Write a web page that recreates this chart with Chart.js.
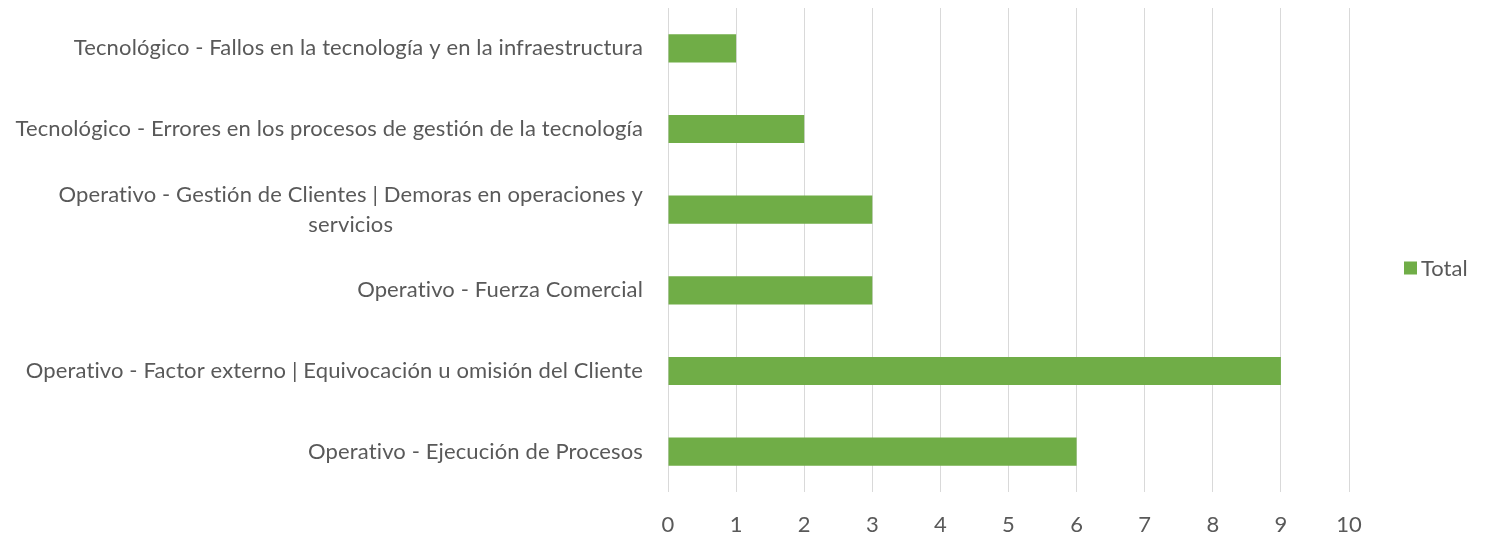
<!DOCTYPE html>
<html>
<head>
<meta charset="utf-8">
<title>Total por tipo de riesgo</title>
<script src="https://cdn.jsdelivr.net/npm/chart.js@4/dist/chart.umd.min.js"></script>
<style>
  html, body { margin: 0; padding: 0; background: #fff; }
  #wrap { width: 1490px; height: 535px; }
</style>
</head>
<body>
<div id="wrap"><canvas id="riskChart" width="1490" height="535"></canvas></div>
<script>
// categories, top to bottom
const categories = [
    'Tecnológico - Fallos en la tecnología y en la infraestructura',
    'Tecnológico - Errores en los procesos de gestión de la tecnología',
    ['Operativo - Gestión de Clientes | Demoras en operaciones y', 'servicios'],
    'Operativo - Fuerza Comercial',
    'Operativo - Factor externo | Equivocación u omisión del Cliente',
    'Operativo - Ejecución de Procesos'
];
const totals = [1, 2, 3, 3, 9, 6];
const xTicks = [0, 1, 2, 3, 4, 5, 6, 7, 8, 9, 10];

const textColor = '#595959';
const fontFamily = 'Lato, "Open Sans", sans-serif';
const fontSize = 22;

// category labels, right aligned; wrapped lines centred on the first one
const categoryLabels = {
    id: 'categoryLabels',
    afterDraw(chart) {
        const ctx = chart.ctx;
        const y = chart.scales.y;
        const right = chart.chartArea.left - 25;
        const lineH = 30;
        ctx.save();
        ctx.font = fontSize + 'px ' + fontFamily;
        // a little tracking, also keeps "ti" from joining into a ligature
        ctx.letterSpacing = '0.13px';
        ctx.fillStyle = textColor;
        ctx.textBaseline = 'middle';
        ctx.textAlign = 'center';
        chart.data.labels.forEach((lab, i) => {
            const lines = Array.isArray(lab) ? lab : [lab];
            const cy = y.getPixelForValue(i);
            const widest = Math.max(...lines.map(l => ctx.measureText(l).width));
            const mid = right - widest / 2;
            const top = cy - (lines.length - 1) * lineH / 2;
            lines.forEach((l, k) => ctx.fillText(l, mid, top + k * lineH));
        });
        ctx.restore();
    }
};

// series legend on the right
const sideLegend = {
    id: 'sideLegend',
    afterDraw(chart) {
        const ctx = chart.ctx;
        const ds = chart.data.datasets[0];
        const cy = chart.height / 2;
        ctx.save();
        ctx.fillStyle = ds.backgroundColor;
        ctx.fillRect(1404, cy - 6, 13, 13);
        ctx.font = fontSize + 'px ' + fontFamily;
        ctx.fillStyle = textColor;
        ctx.textAlign = 'left';
        ctx.textBaseline = 'middle';
        ctx.fillText(ds.label, 1421, cy + 1);
        ctx.restore();
    }
};

const ctx = document.getElementById('riskChart').getContext('2d');
const riskChart = new Chart(ctx, {
    type: 'bar',
    data: {
        labels: categories,
        datasets: [{
            label: 'Total',
            data: totals,
            backgroundColor: '#70AD47',
            borderWidth: 0,
            barPercentage: 0.35,
            categoryPercentage: 1
        }]
    },
    options: {
        indexAxis: 'y',
        responsive: false,
        animation: false,
        layout: { padding: { left: 668, right: 141, top: 8, bottom: 0 } },
        plugins: {
            legend: { display: false },
            tooltip: { enabled: false }
        },
        scales: {
            x: {
                min: 0,
                max: 10,
                afterBuildTicks: axis => { axis.ticks = xTicks.map(v => ({ value: v })); },
                afterFit: axis => { axis.height = 43; },
                grid: { color: '#D9D9D9', lineWidth: 1, drawTicks: false },
                border: { display: false },
                ticks: {
                    padding: 20,
                    maxRotation: 0,
                    color: textColor,
                    font: { family: fontFamily, size: fontSize }
                }
            },
            y: {
                display: false
            }
        }
    },
    plugins: [categoryLabels, sideLegend]
});
</script>
</body>
</html>
